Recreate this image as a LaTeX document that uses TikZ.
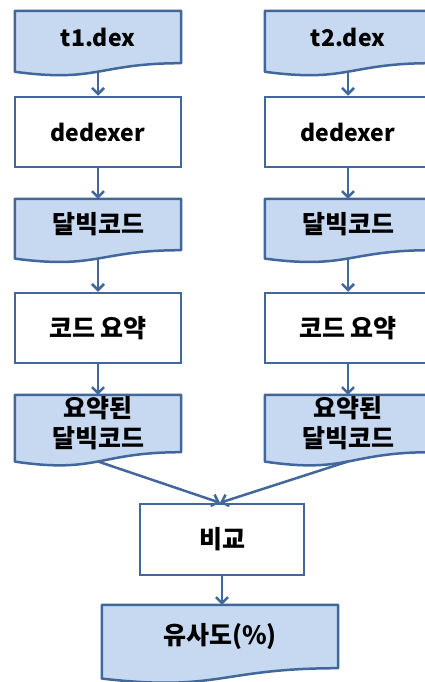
\documentclass[tikz,border=0pt]{standalone}
\usepackage{fontspec}
\setmainfont{Noto Sans CJK KR}
\usetikzlibrary{arrows.meta,calc,backgrounds}
\definecolor{docfill}{HTML}{C6D9F1}
\definecolor{edge}{HTML}{41679B}
\tikzset{
  every node/.style={font=\fontsize{25}{30}\selectfont\bfseries, align=center, inner sep=0pt},
  latintext/.style={font=\fontsize{23}{30}\selectfont\bfseries},
  procbox/.style={draw=edge, line width=2.5pt, fill=white, minimum width=166pt, minimum height=70pt},
  docnode/.style={minimum width=166pt},
  docline/.style={draw=edge, line width=2.5pt, fill=docfill, line join=round},
  flow/.style={draw=edge, line width=2.5pt, -{Straight Barb[length=6pt,width=12pt,line width=2.5pt]}}
}
% #1 node name, #2 straight height s
\newcommand\docwave[2]{%
  \path[docline] (#1.north west) -- (#1.north east) -- (#1.south east)
    .. controls (#1.south) and ($(#1.south)+(0,0.38*#2)$) .. ($(#1.south west)+(0,0.1646*#2)$) -- cycle;
  \coordinate (#1-b) at ($(#1.south)+(0,0.163*#2)$);
}
\begin{document}
\begin{tikzpicture}[x=1pt,y=-1pt]
\useasboundingbox (0,0) rectangle (425,682);
\clip (0,0) rectangle (425,682);
% left column
\node[docnode, latintext, minimum height=52pt] (d1) at (98,37) {t1.dex};
\node[procbox, latintext] (p1) at (98,132) {dedexer};
\node[docnode, minimum height=51pt] (d2) at (98,224.5) {달빅코드};
\node[procbox] (s1) at (98,328) {코드 요약};
\node[docnode, minimum height=57pt] (d3) at (98,423.5) {요약된\\달빅코드};
% right column
\node[docnode, latintext, minimum height=52pt] (e1) at (348,37) {t2.dex};
\node[procbox, latintext] (q1) at (348,132) {dedexer};
\node[docnode, minimum height=51pt] (e2) at (348,224.5) {달빅코드};
\node[procbox] (s2) at (348,328) {코드 요약};
\node[docnode, minimum height=57pt] (e3) at (348,423.5) {요약된\\달빅코드};
% bottom
\node[procbox, minimum width=164pt, minimum height=71pt] (cmp) at (222,539.5) {비교};
\node[docnode, minimum width=236pt, minimum height=63pt] (res) at (220,636.5) {유사도(\%)};
\begin{pgfonlayer}{background}
\docwave{d1}{52}\docwave{d2}{51}\docwave{d3}{57}
\docwave{e1}{52}\docwave{e2}{51}\docwave{e3}{57}
\docwave{res}{63}
\end{pgfonlayer}
\draw[flow] (d1-b) -- (p1.north);
\draw[flow] (p1.south) -- (d2.north);
\draw[flow] (d2-b) -- (s1.north);
\draw[flow] (s1.south) -- (d3.north);
\draw[flow] (e1-b) -- (q1.north);
\draw[flow] (q1.south) -- (e2.north);
\draw[flow] (e2-b) -- (s2.north);
\draw[flow] (s2.south) -- (e3.north);
\coordinate (meet) at ($(cmp.north)+(-2,0)$);
\draw[flow] (d3-b) -- (meet);
\draw[flow] (e3-b) -- (meet);
\draw[flow] (cmp.south) -- (cmp.south |- res.north);
\end{tikzpicture}
\end{document}
